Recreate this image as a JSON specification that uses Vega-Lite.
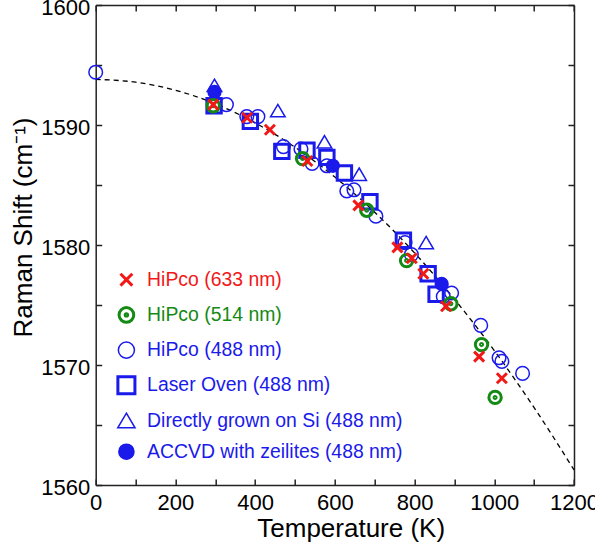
{
  "$schema": "https://vega.github.io/schema/vega-lite/v6.json",
  "width": 478.3,
  "height": 480,
  "autosize": {"type": "none"},
  "padding": {"left": 95.7, "top": 5, "right": 21, "bottom": 60},
  "background": "white",
  "config": {
    "view": {"stroke": null},
    "font": "Liberation Sans",
    "axis": {
      "grid": false,
      "domainColor": "#222",
      "domainWidth": 1.5,
      "tickColor": "#222",
      "tickWidth": 1.5,
      "tickSize": -6,
      "labelFont": "Liberation Sans",
      "labelFontSize": 22,
      "labelColor": "#000",
      "labelOverlap": false,
      "labelBound": false,
      "titleFont": "Liberation Sans",
      "titleFontSize": 26,
      "titleFontWeight": "normal",
      "titleColor": "#000"
    },
    "legend": {
      "labelFont": "Liberation Sans",
      "labelFontSize": 19.4,
      "labelLimit": 500
    }
  },
  "datasets": {
    "fit": [
      {"T": 0, "shift": 1593.8},
      {"T": 100, "shift": 1593.57},
      {"T": 200, "shift": 1592.9},
      {"T": 300, "shift": 1591.77},
      {"T": 400, "shift": 1590.18},
      {"T": 500, "shift": 1588.15},
      {"T": 600, "shift": 1585.66},
      {"T": 700, "shift": 1582.73},
      {"T": 800, "shift": 1579.34},
      {"T": 900, "shift": 1575.49},
      {"T": 1000, "shift": 1571.2},
      {"T": 1100, "shift": 1566.45},
      {"T": 1200, "shift": 1561.26}
    ],
    "raman": [
      {"series": "Laser Oven (488 nm)", "T": 297, "shift": 1591.6},
      {"series": "Laser Oven (488 nm)", "T": 388, "shift": 1590.3},
      {"series": "Laser Oven (488 nm)", "T": 467, "shift": 1587.8},
      {"series": "Laser Oven (488 nm)", "T": 530, "shift": 1587.9},
      {"series": "Laser Oven (488 nm)", "T": 580, "shift": 1587.3},
      {"series": "Laser Oven (488 nm)", "T": 624, "shift": 1586.0},
      {"series": "Laser Oven (488 nm)", "T": 688, "shift": 1583.6},
      {"series": "Laser Oven (488 nm)", "T": 772, "shift": 1580.4},
      {"series": "Laser Oven (488 nm)", "T": 834, "shift": 1577.6},
      {"series": "Laser Oven (488 nm)", "T": 854, "shift": 1575.9},

      {"series": "Directly grown on Si (488 nm)", "T": 298, "shift": 1593.3},
      {"series": "Directly grown on Si (488 nm)", "T": 457, "shift": 1591.2},
      {"series": "Directly grown on Si (488 nm)", "T": 574, "shift": 1588.6},
      {"series": "Directly grown on Si (488 nm)", "T": 661, "shift": 1585.9},
      {"series": "Directly grown on Si (488 nm)", "T": 829, "shift": 1580.2},

      {"series": "ACCVD with zeilites (488 nm)", "T": 298, "shift": 1592.75},
      {"series": "ACCVD with zeilites (488 nm)", "T": 595, "shift": 1586.6},
      {"series": "ACCVD with zeilites (488 nm)", "T": 868, "shift": 1576.75},

      {"series": "HiPco (488 nm)", "T": 0, "shift": 1594.4},
      {"series": "HiPco (488 nm)", "T": 328, "shift": 1591.7},
      {"series": "HiPco (488 nm)", "T": 379, "shift": 1590.7},
      {"series": "HiPco (488 nm)", "T": 407, "shift": 1590.7},
      {"series": "HiPco (488 nm)", "T": 471, "shift": 1588.2},
      {"series": "HiPco (488 nm)", "T": 515, "shift": 1588.0},
      {"series": "HiPco (488 nm)", "T": 543, "shift": 1586.8},
      {"series": "HiPco (488 nm)", "T": 580, "shift": 1586.6},
      {"series": "HiPco (488 nm)", "T": 630, "shift": 1584.5},
      {"series": "HiPco (488 nm)", "T": 648, "shift": 1584.6},
      {"series": "HiPco (488 nm)", "T": 703, "shift": 1582.4},
      {"series": "HiPco (488 nm)", "T": 776, "shift": 1580.2},
      {"series": "HiPco (488 nm)", "T": 792, "shift": 1579.2},
      {"series": "HiPco (488 nm)", "T": 872, "shift": 1575.7},
      {"series": "HiPco (488 nm)", "T": 893, "shift": 1576.0},
      {"series": "HiPco (488 nm)", "T": 966, "shift": 1573.3},
      {"series": "HiPco (488 nm)", "T": 1012, "shift": 1570.6},
      {"series": "HiPco (488 nm)", "T": 1019, "shift": 1570.3},
      {"series": "HiPco (488 nm)", "T": 1071, "shift": 1569.3},

      {"series": "HiPco (514 nm)", "T": 295, "shift": 1591.6},
      {"series": "HiPco (514 nm)", "T": 519, "shift": 1587.2},
      {"series": "HiPco (514 nm)", "T": 680, "shift": 1582.9},
      {"series": "HiPco (514 nm)", "T": 780, "shift": 1578.7},
      {"series": "HiPco (514 nm)", "T": 891, "shift": 1575.1},
      {"series": "HiPco (514 nm)", "T": 968, "shift": 1571.7},
      {"series": "HiPco (514 nm)", "T": 1002, "shift": 1567.3},

      {"series": "HiPco (633 nm)", "T": 295, "shift": 1591.7},
      {"series": "HiPco (633 nm)", "T": 380, "shift": 1590.6},
      {"series": "HiPco (633 nm)", "T": 437, "shift": 1589.6},
      {"series": "HiPco (633 nm)", "T": 531, "shift": 1587.0},
      {"series": "HiPco (633 nm)", "T": 659, "shift": 1583.3},
      {"series": "HiPco (633 nm)", "T": 757, "shift": 1579.8},
      {"series": "HiPco (633 nm)", "T": 793, "shift": 1578.9},
      {"series": "HiPco (633 nm)", "T": 822, "shift": 1577.6},
      {"series": "HiPco (633 nm)", "T": 879, "shift": 1574.9},
      {"series": "HiPco (633 nm)", "T": 962, "shift": 1570.7},
      {"series": "HiPco (633 nm)", "T": 1019, "shift": 1568.9}
    ]
  },
  "layer": [
    {
      "data": {"name": "fit"},
      "mark": {"type": "line", "color": "#000", "strokeWidth": 1.3, "strokeDash": [5, 4], "interpolate": "monotone"},
      "encoding": {
        "x": {
          "field": "T", "type": "quantitative",
          "scale": {"domain": [0, 1200], "nice": false, "zero": false},
          "axis": {
            "orient": "bottom",
            "values": [0, 100, 200, 300, 400, 500, 600, 700, 800, 900, 1000, 1100, 1200],
            "format": "d",
            "labelExpr": "datum.value % 200 === 0 ? datum.label : ''",
            "labelFlush": false,
            "labelPadding": 13,
            "title": "Temperature (K)",
            "titleX": 255,
            "titlePadding": 2
          }
        },
        "y": {
          "field": "shift", "type": "quantitative",
          "scale": {"domain": [1560, 1600], "nice": false, "zero": false},
          "axis": {
            "orient": "left",
            "values": [1560, 1565, 1570, 1575, 1580, 1585, 1590, 1595, 1600],
            "format": "d",
            "labelExpr": "datum.value % 10 === 0 ? datum.label : ''",
            "labelPadding": 12,
            "labelOffset": 2,
            "title": "Raman Shift (cm⁻¹)",
            "titleY": 222,
            "titlePadding": 4
          }
        }
      }
    },
    {
      "data": {"name": "raman"},
      "transform": [{"filter": {"field": "series", "oneOf": ["Laser Oven (488 nm)"]}}],
      "mark": {"type": "point", "size": 400, "strokeWidth": 3, "opacity": 1},
      "encoding": {
        "x": {
          "field": "T", "type": "quantitative",
          "axis": {
            "orient": "top",
            "values": [0, 100, 200, 300, 400, 500, 600, 700, 800, 900, 1000, 1100, 1200],
            "labels": false,
            "title": null
          }
        },
        "y": {
          "field": "shift", "type": "quantitative",
          "axis": {
            "orient": "right",
            "values": [1560, 1565, 1570, 1575, 1580, 1585, 1590, 1595, 1600],
            "labels": false,
            "title": null
          }
        },
        "shape": {
          "field": "series", "type": "nominal",
          "scale": {
            "domain": ["HiPco (633 nm)", "HiPco (514 nm)", "HiPco (488 nm)", "Laser Oven (488 nm)", "Directly grown on Si (488 nm)", "ACCVD with zeilites (488 nm)"],
            "range": [
              "M-0.5,-0.5L0.5,0.5M0.5,-0.5L-0.5,0.5",
              "M0.62,0A0.62,0.62,0,1,1,-0.62,0A0.62,0.62,0,1,1,0.62,0ZM0.1,0A0.1,0.1,0,1,1,-0.1,0A0.1,0.1,0,1,1,0.1,0Z",
              "M0.68,0A0.68,0.68,0,1,1,-0.68,0A0.68,0.68,0,1,1,0.68,0Z",
              "M-0.72,-0.72L0.72,-0.72L0.72,0.72L-0.72,0.72Z",
              "M0,-0.62L0.73,0.62L-0.73,0.62Z",
              "M0.64,0A0.64,0.64,0,1,1,-0.64,0A0.64,0.64,0,1,1,0.64,0Z"
            ]
          },
          "legend": {
            "title": null,
            "orient": "none",
            "legendX": 21,
            "legendY": 265,
            "padding": 0,
            "symbolSize": 560,
            "symbolOpacity": 1,
            "labelOffset": 11,
            "rowPadding": 9.2,
            "labelColor": {"expr": "datum.value === 'HiPco (633 nm)' ? '#f21818' : datum.value === 'HiPco (514 nm)' ? '#148a14' : '#1a1aeb'"},
            "symbolStrokeWidth": {"expr": "indexof(['HiPco (488 nm)', 'Directly grown on Si (488 nm)', 'ACCVD with zeilites (488 nm)'], datum.value) >= 0 ? 1.5 : 3"}
          }
        },
        "stroke": {
          "field": "series", "type": "nominal",
          "scale": {
            "domain": ["HiPco (633 nm)", "HiPco (514 nm)", "HiPco (488 nm)", "Laser Oven (488 nm)", "Directly grown on Si (488 nm)", "ACCVD with zeilites (488 nm)"],
            "range": ["#f21818", "#148a14", "#1a1aeb", "#1a1aeb", "#1a1aeb", "#1a1aeb"]
          },
          "legend": {
            "title": null,
            "orient": "none",
            "legendX": 21,
            "legendY": 265,
            "padding": 0,
            "symbolSize": 560,
            "symbolOpacity": 1,
            "labelOffset": 11,
            "rowPadding": 9.2,
            "labelColor": {"expr": "datum.value === 'HiPco (633 nm)' ? '#f21818' : datum.value === 'HiPco (514 nm)' ? '#148a14' : '#1a1aeb'"},
            "symbolStrokeWidth": {"expr": "indexof(['HiPco (488 nm)', 'Directly grown on Si (488 nm)', 'ACCVD with zeilites (488 nm)'], datum.value) >= 0 ? 1.5 : 3"}
          }
        },
        "fill": {
          "field": "series", "type": "nominal",
          "scale": {
            "domain": ["HiPco (633 nm)", "HiPco (514 nm)", "HiPco (488 nm)", "Laser Oven (488 nm)", "Directly grown on Si (488 nm)", "ACCVD with zeilites (488 nm)"],
            "range": ["transparent", "transparent", "transparent", "transparent", "transparent", "#1a1aeb"]
          },
          "legend": {
            "title": null,
            "orient": "none",
            "legendX": 21,
            "legendY": 265,
            "padding": 0,
            "symbolSize": 560,
            "symbolOpacity": 1,
            "labelOffset": 11,
            "rowPadding": 9.2,
            "labelColor": {"expr": "datum.value === 'HiPco (633 nm)' ? '#f21818' : datum.value === 'HiPco (514 nm)' ? '#148a14' : '#1a1aeb'"},
            "symbolStrokeWidth": {"expr": "indexof(['HiPco (488 nm)', 'Directly grown on Si (488 nm)', 'ACCVD with zeilites (488 nm)'], datum.value) >= 0 ? 1.5 : 3"}
          }
        }
      }
    },
    {
      "data": {"name": "raman"},
      "transform": [{"filter": {"field": "series", "oneOf": ["Directly grown on Si (488 nm)", "ACCVD with zeilites (488 nm)", "HiPco (488 nm)"]}}],
      "mark": {"type": "point", "size": 400, "strokeWidth": 1.5, "opacity": 1},
      "encoding": {
        "x": {"field": "T", "type": "quantitative", "axis": null},
        "y": {"field": "shift", "type": "quantitative", "axis": null},
        "shape": {"field": "series", "type": "nominal"},
        "stroke": {"field": "series", "type": "nominal"},
        "fill": {"field": "series", "type": "nominal"}
      }
    },
    {
      "data": {"name": "raman"},
      "transform": [{"filter": {"field": "series", "oneOf": ["HiPco (514 nm)", "HiPco (633 nm)"]}}],
      "mark": {"type": "point", "size": 400, "strokeWidth": 3, "opacity": 1},
      "encoding": {
        "x": {"field": "T", "type": "quantitative", "axis": null},
        "y": {"field": "shift", "type": "quantitative", "axis": null},
        "shape": {"field": "series", "type": "nominal"},
        "stroke": {"field": "series", "type": "nominal"},
        "fill": {"field": "series", "type": "nominal"}
      }
    }
  ],
  "resolve": {"axis": {"x": "independent", "y": "independent"}}
}
